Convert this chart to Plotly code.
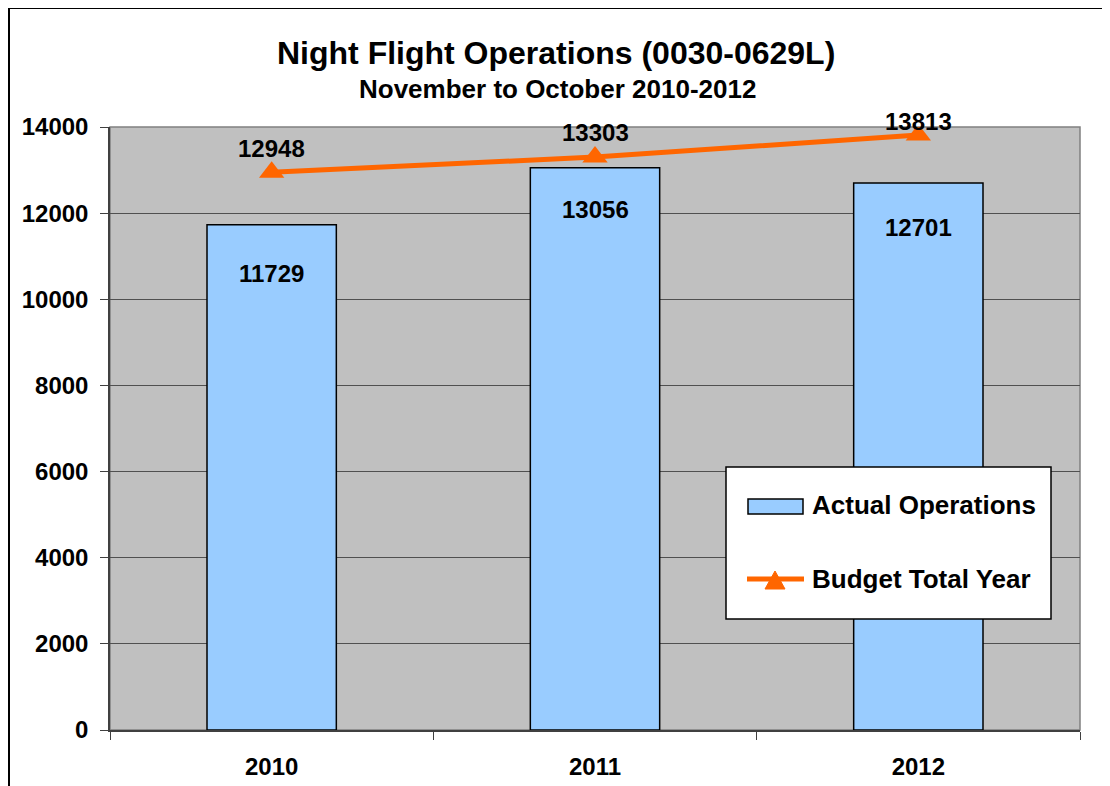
import plotly.graph_objects as go

years = ["2010", "2011", "2012"]
actual_operations = [11729, 13056, 12701]
budget_total_year = [12948, 13303, 13813]
y_ticks = [0, 2000, 4000, 6000, 8000, 10000, 12000, 14000]
series_names = ["Actual Operations", "Budget Total Year"]

FONT = "Liberation Sans, Arial, sans-serif"
BAR_COLOR = "#99CCFF"
LINE_COLOR = "#FF6600"
OFF = 8  # page body margin
W, H = 1110, 786
L, R, T, B = 102, 38, 119, 64
pw, ph = W - L - R, H - T - B


def px(xs):
    return (xs - OFF - L) / pw


def py(ys):
    return 1 - (ys - OFF - T) / ph


fig = go.Figure()
fig.add_trace(go.Bar(
    x=years, y=actual_operations, name=series_names[0],
    marker=dict(color=BAR_COLOR, line=dict(color="#000000", width=1.5)),
    width=0.4, showlegend=False,
))
fig.add_trace(go.Scatter(
    x=years, y=budget_total_year, name=series_names[1],
    mode="lines+markers",
    line=dict(color=LINE_COLOR, width=5),
    marker=dict(symbol="triangle-up", size=22, color=LINE_COLOR),
    showlegend=False,
))

lab_font = dict(family=FONT, size=24, color="black", weight="bold")
ann = []
bar_shifts = [-49, -42, -45]
for i, (v, s) in enumerate(zip(actual_operations, bar_shifts)):
    ann.append(dict(x=i, y=v, text=str(v), showarrow=False, yshift=s, font=lab_font,
                    xanchor="center", yanchor="middle"))
line_shifts = [24, 25, 14]
for i, (v, s) in enumerate(zip(budget_total_year, line_shifts)):
    ann.append(dict(x=i, y=v, text=str(v), showarrow=False, yshift=s, font=lab_font,
                    xanchor="center", yanchor="middle"))

# titles
ann.append(dict(xref="paper", yref="paper", x=px(556), y=py(53),
                xanchor="center", yanchor="middle",
                text="Night Flight Operations (0030-0629L)", showarrow=False,
                font=dict(family=FONT, size=32, color="black", weight="bold")))
ann.append(dict(xref="paper", yref="paper", x=px(557), y=py(89),
                xanchor="center", yanchor="middle",
                text="November to October 2010-2012", showarrow=False,
                font=dict(family=FONT, size=26, color="black", weight="bold")))

# legend (drawn manually to mimic the original box)
leg_font = dict(family=FONT, size=26, color="black", weight="bold")
ann.append(dict(xref="paper", yref="paper", x=px(810), y=py(505),
                xanchor="left", yanchor="middle",
                text=series_names[0], showarrow=False, font=leg_font))
ann.append(dict(xref="paper", yref="paper", x=px(810), y=py(579),
                xanchor="left", yanchor="middle",
                text=series_names[1], showarrow=False, font=leg_font))

shapes = [
    # outer chart border
    dict(type="rect", xref="paper", yref="paper",
         x0=px(9), x1=px(1130), y0=py(800), y1=py(8),
         line=dict(color="black", width=2), fillcolor="rgba(0,0,0,0)", layer="below"),
    # plot-area border
    dict(type="rect", xref="paper", yref="paper", x0=0, x1=1, y0=0, y1=1,
         line=dict(color="#808080", width=1.5), fillcolor="rgba(0,0,0,0)", layer="below"),
    # legend box
    dict(type="rect", xref="paper", yref="paper",
         x0=px(726), x1=px(1051), y0=py(619), y1=py(467),
         line=dict(color="black", width=1.5), fillcolor="white", layer="above"),
    # bar swatch
    dict(type="rect", xref="paper", yref="paper",
         x0=px(748), x1=px(803), y0=py(514), y1=py(499),
         line=dict(color="black", width=1.5), fillcolor=BAR_COLOR, layer="above"),
    # line swatch
    dict(type="line", xref="paper", yref="paper",
         x0=px(747), x1=px(804), y0=py(579), y1=py(579),
         line=dict(color=LINE_COLOR, width=5), layer="above"),
    dict(type="path", xref="paper", yref="paper",
         path=f"M {px(765)} {py(589)} L {px(785)} {py(589)} L {px(775)} {py(571)} Z",
         line=dict(color=LINE_COLOR, width=1), fillcolor=LINE_COLOR, layer="above"),
]

fig.update_layout(
    width=W, height=H,
    margin=dict(l=L, r=R, t=T, b=B, autoexpand=False),
    paper_bgcolor="white", plot_bgcolor="#C0C0C0",
    font=dict(family=FONT, size=24, color="black"),
    showlegend=False,
    annotations=ann, shapes=shapes,
)
fig.update_xaxes(
    type="category", tickson="boundaries", ticks="outside", ticklen=8,
    tickcolor="#404040", showline=True, linecolor="#404040", linewidth=1.5,
    mirror=False, showgrid=False, tickangle=0,
    tickfont=dict(family=FONT, size=24, color="black", weight="bold"), ticklabelstandoff=14,
)
fig.update_yaxes(
    range=[0, 14000], tickvals=y_ticks, tickformat="d",
    ticks="outside", ticklen=8, tickcolor="#404040",
    showline=True, linecolor="#404040", linewidth=1.5,
    showgrid=True, gridcolor="#505050", gridwidth=1,
    zeroline=False,
    tickfont=dict(family=FONT, size=24, color="black", weight="bold"), ticklabelstandoff=7,
)

fig.write_html("out.html")
